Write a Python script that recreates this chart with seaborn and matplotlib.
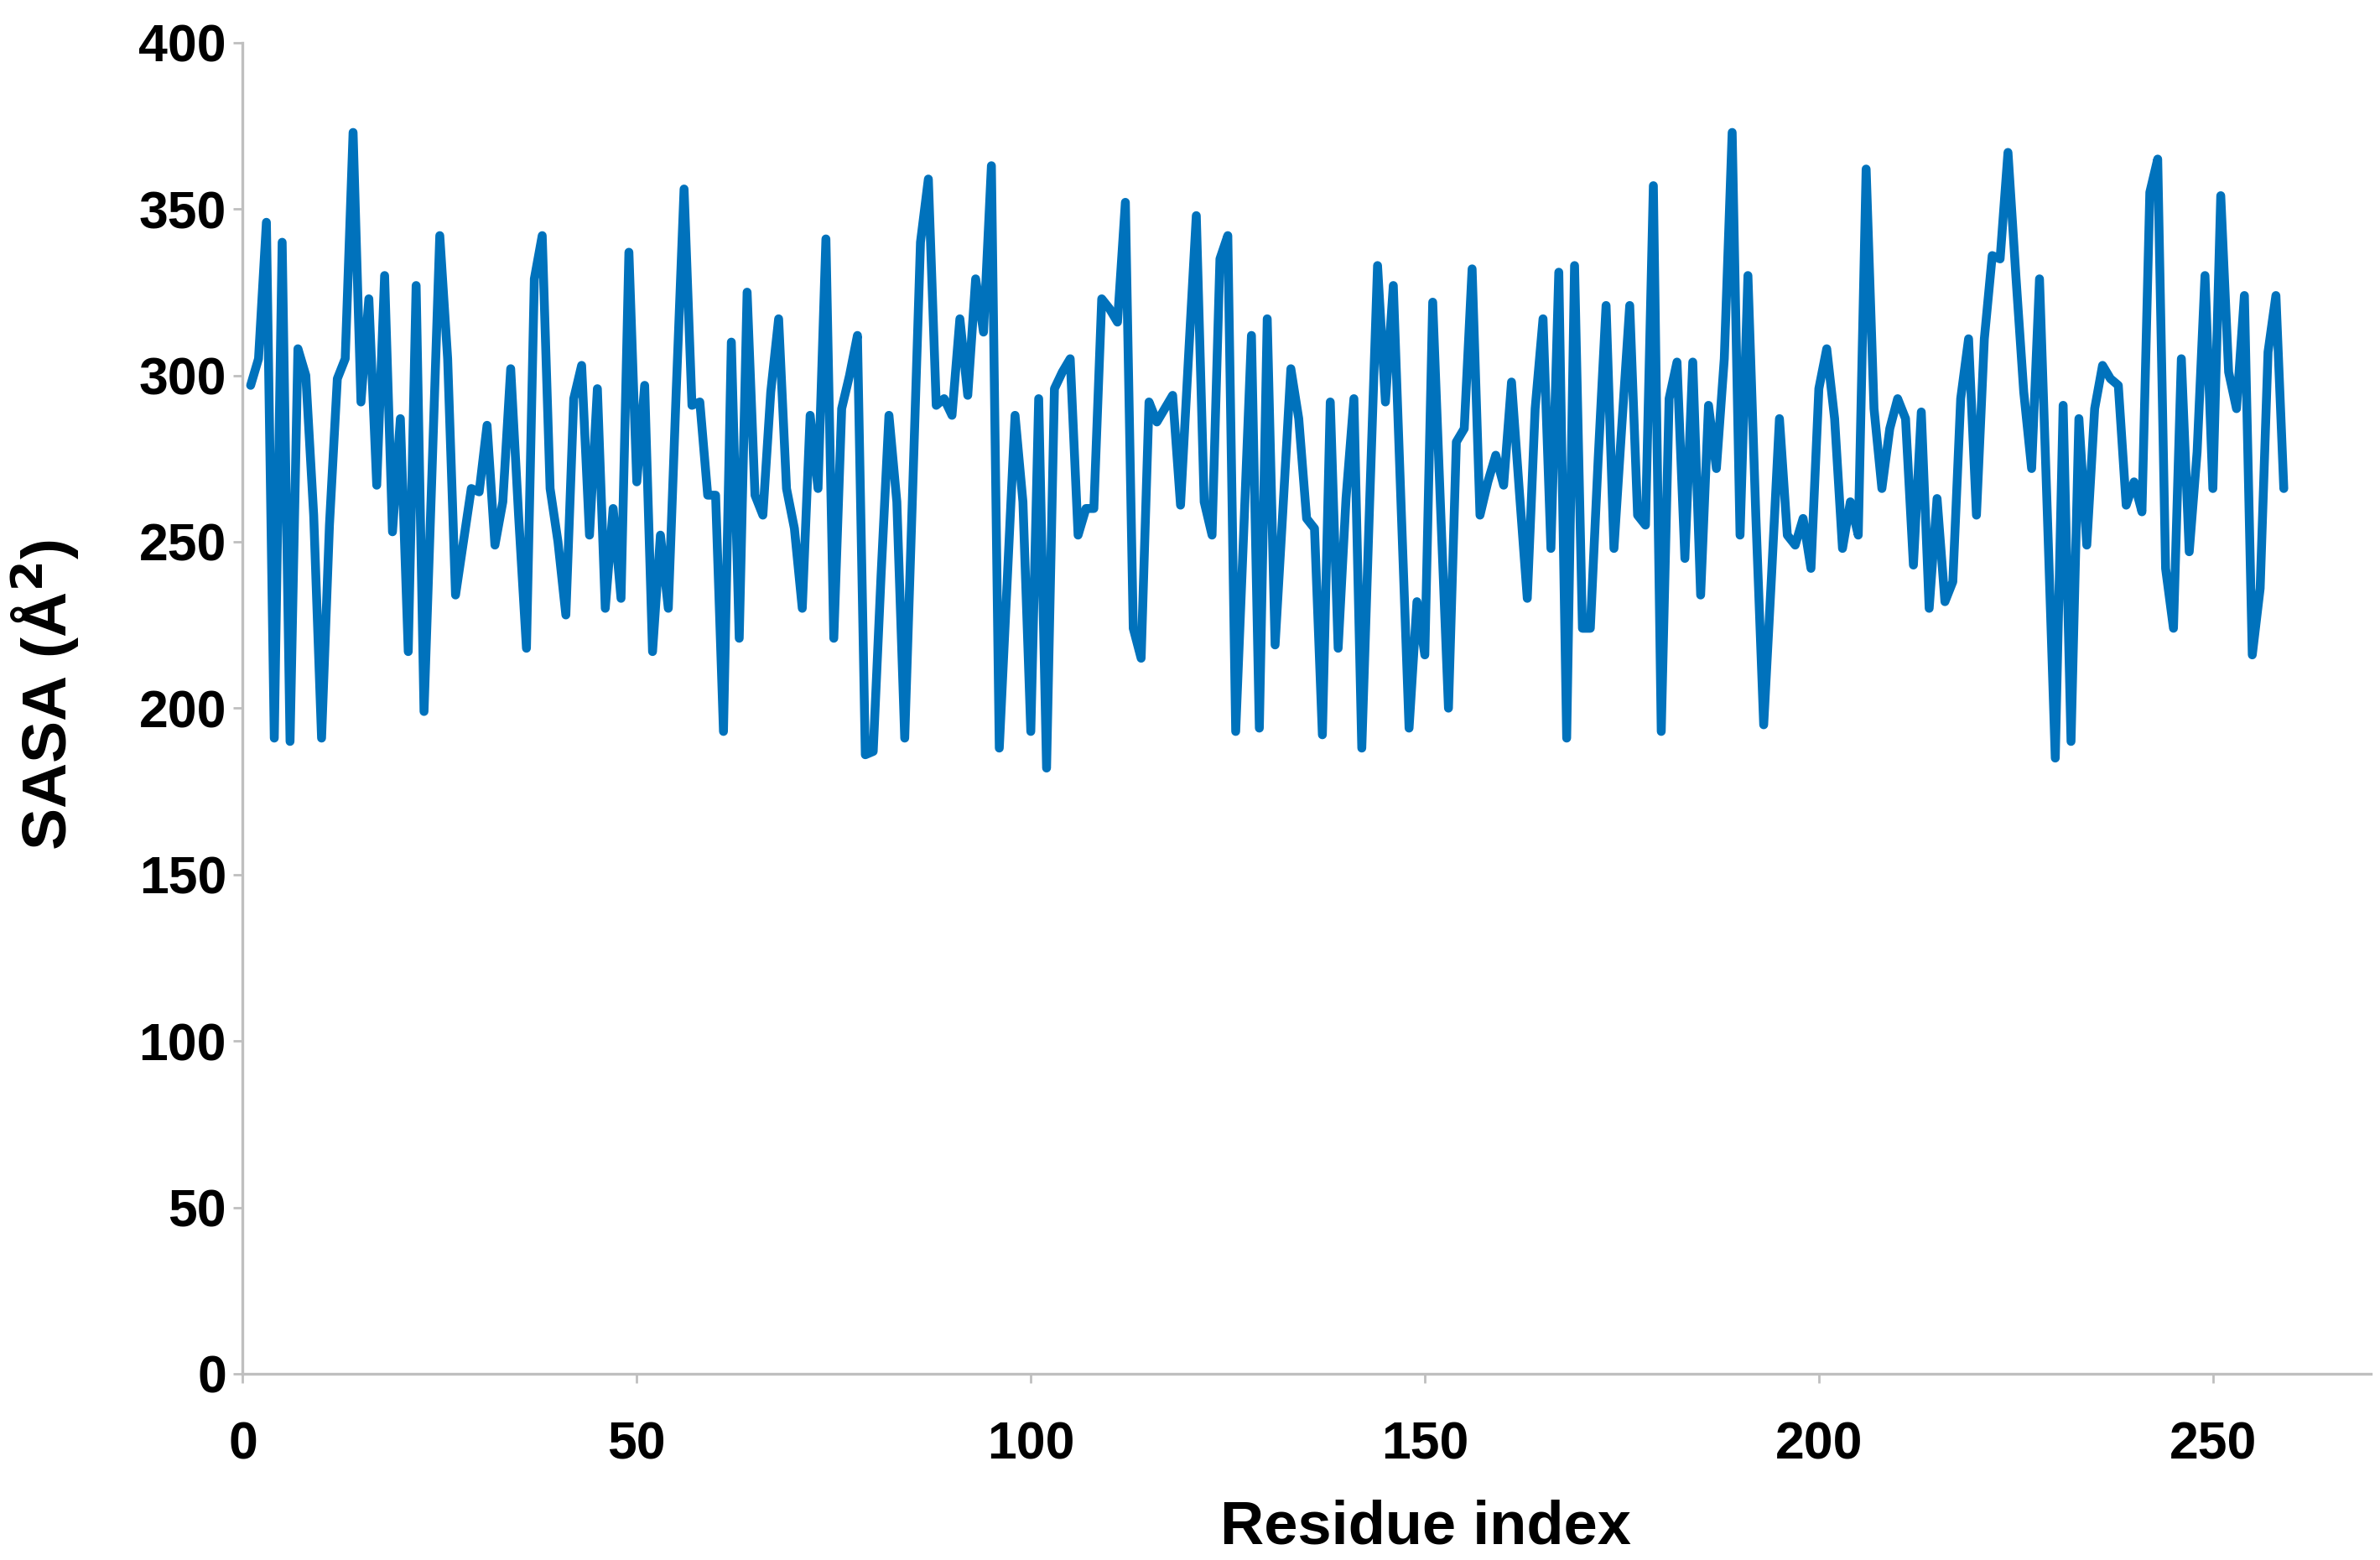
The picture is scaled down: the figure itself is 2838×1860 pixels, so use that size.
import numpy as np
import pandas as pd
import seaborn as sns
import matplotlib.pyplot as plt

# SASA per residue
sasa = [
    297, 305, 346, 191, 340, 190, 308, 300, 258, 191,
    255, 299, 305, 373, 292, 323, 267, 330, 253, 287,
    217, 327, 199, 270, 342, 305, 234, 250, 266, 265,
    285, 249, 262, 302, 258, 218, 329, 342, 266, 250,
    228, 293, 303, 252, 296, 230, 260, 233, 337, 268,
    297, 217, 252, 230, 295, 356, 291, 292, 264, 264,
    193, 310, 221, 325, 264, 258, 295, 317, 266, 254,
    230, 288, 266, 341, 221, 290, 300, 312, 186, 187,
    240, 288, 262, 191, 265, 340, 359, 291, 293, 288,
    317, 294, 329, 313, 363, 188, 238, 288, 262, 193,
    293, 182, 296, 301, 305, 252, 260, 260, 323, 320,
    316, 352, 224, 215, 292, 286, 290, 294, 261, 305,
    348, 262, 252, 335, 342, 193, 252, 312, 194, 317,
    219, 260, 302, 287, 257, 254, 192, 292, 218, 263,
    293, 188, 262, 333, 292, 327, 260, 194, 232, 216,
    322, 260, 200, 280, 284, 332, 258, 268, 276, 267,
    298, 265, 233, 290, 317, 248, 331, 191, 333, 224,
    224, 275, 321, 248, 285, 321, 258, 255, 357, 193,
    293, 304, 245, 304, 234, 291, 272, 305, 373, 252,
    330, 258, 195, 240, 287, 252, 249, 257, 242, 296,
    308, 287, 248, 262, 252, 362, 290, 266, 284, 293,
    287, 243, 289, 230, 263, 232, 238, 293, 311, 258,
    311, 336, 335, 367, 330, 295, 272, 329, 258, 185,
    291, 190, 287, 249, 290, 303, 299, 297, 261, 268,
    259, 355, 365, 242, 224, 305, 247, 277, 330, 266,
    354, 301, 290, 324, 216, 236, 307, 324, 266,
]
residue = np.arange(1, len(sasa) + 1)
x_ticks = [0, 50, 100, 150, 200, 250]
y_ticks = [0, 50, 100, 150, 200, 250, 300, 350, 400]

df = pd.DataFrame({'residue': residue, 'sasa': sasa})

sns.set_style('ticks')
plt.rcParams['font.family'] = ['Liberation Sans', 'DejaVu Sans']
plt.rcParams['font.weight'] = 'bold'

fig = plt.figure(figsize=(14.19, 9.3), dpi=200)
ax = fig.add_axes([0.102, 0.1194, 0.894, 0.8533])

sns.lineplot(data=df, x='residue', y='sasa', color='#0072BC', linewidth=3.8, ax=ax)
for line in ax.lines:
    line.set_solid_joinstyle('round')
    line.set_solid_capstyle('round')

ax.set_xlim(0, 270)
ax.set_ylim(0, 400)
ax.set_xticks(x_ticks)
ax.set_yticks(y_ticks)
ax.tick_params(axis='both', labelsize=22.5, length=4, width=1, color='#BFBFBF',
               labelcolor='black')
ax.tick_params(axis='y', pad=3)
ax.tick_params(axis='x', pad=16)
for lab in ax.get_xticklabels() + ax.get_yticklabels():
    lab.set_fontweight('bold')

ax.set_xlabel('Residue index', fontsize=26, fontweight='bold', color='black')
ax.xaxis.set_label_coords(0.556, -0.094)
ax.set_ylabel('SASA (Å$^\\mathbf{2}$)', fontsize=27, fontweight='bold', color='black')
ax.yaxis.set_label_coords(-0.076, 0.51)

sns.despine(ax=ax)
for side in ['left', 'bottom']:
    ax.spines[side].set_color('#BFBFBF')
    ax.spines[side].set_linewidth(1.2)

fig.savefig('out.png', dpi=200, facecolor='white')
